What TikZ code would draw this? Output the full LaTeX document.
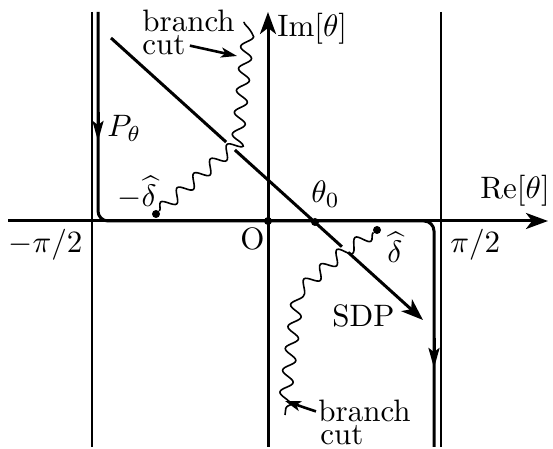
\documentclass[tikz,border=0pt]{standalone}
\usetikzlibrary{arrows.meta,decorations.pathmorphing,calc}
\newcommand{\lbtext}[1]{\scalebox{1.55}{#1}}
\begin{document}
\begin{tikzpicture}[x=0.5pt,y=-0.5pt,
  thickln/.style={line width=1.5pt},
  thinln/.style={line width=1pt},
  wavy/.style={line width=0.8pt, decorate, decoration={snake,segment length=11pt,amplitude=3pt}},
  bigtip/.style={-{Stealth[length=11pt,width=8pt,inset=3pt]}},
  smalltip/.style={-{Stealth[length=10pt,width=5.5pt,inset=2pt]}},
  cuttip/.style={line width=1.3pt,-{Stealth[length=8pt,width=5pt,inset=2pt]}},
  lbl/.style={inner sep=0pt, anchor=base west},
  dot/.style={circle,fill,inner sep=0pt,minimum size=4pt}
]
\useasboundingbox (0,0) rectangle (553,449);

% thin vertical lines at +-pi/2
\coordinate (lt) at (92,12);  \coordinate (lb) at (92,447);
\coordinate (rt) at (441,12); \coordinate (rb) at (441,447);
\draw[thinln] (lt) -- (lb);
\draw[thinln] (rt) -- (rb);

% axes
\coordinate (xa) at (8,221);   \coordinate (xb) at (548,221);
\coordinate (ya) at (268,447); \coordinate (yb) at (268,12);
\draw[thickln,bigtip] (xa) -- (xb);
\draw[thickln,bigtip] (ya) -- (yb);

% contour P_theta
\coordinate (c1) at (98,12);  \coordinate (c2) at (98,221);
\coordinate (c3) at (434,221); \coordinate (c4) at (434,447);
\draw[thickln,rounded corners=5pt] (c1) -- (c2) -- (c3) -- (c4);
\coordinate (pa1) at (98,112); \coordinate (pa2) at (98,141);
\draw[thickln,smalltip] (pa1) -- (pa2);
\coordinate (pb1) at (434,338); \coordinate (pb2) at (434,368);
\draw[thickln,smalltip] (pb1) -- (pb2);

% steepest descent path
\coordinate (s1) at (111,38); \coordinate (s2) at (423,320);
\draw[thickln] (s1) -- ($(s1)!0.369!(s2)$);
\draw[thickln] ($(s1)!0.397!(s2)$) -- ($(s1)!0.740!(s2)$);
\draw[thickln,bigtip] ($(s1)!0.760!(s2)$) -- (s2);

% dots
\node[dot] (o)  at (268,221) {};
\node[dot] (t0) at (315,222) {};
\node[dot] (dl) at (156,214) {};
\node[dot] (dr) at (377,230) {};

% branch cuts
\coordinate (w1) at (232,148); \coordinate (w2) at (244,22);
\draw[wavy] (dl) -- (w1) -- (w2);
\coordinate (v1) at (347,250); \coordinate (v2) at (300,292); \coordinate (v3) at (285,415);
\draw[wavy] (dr) -- (v1) -- (v2) -- (v3);

% labels
\node[lbl] (bA) at (142,32) {\lbtext{branch}};
\node[lbl] (cA) at (142,55) {\lbtext{cut}};
\node[lbl] (bB) at (318,422) {\lbtext{branch}};
\node[lbl] (cB) at (320,445) {\lbtext{cut}};
\coordinate (wa) at (237,56);
\coordinate (wb) at (285,401);
\draw[cuttip] ([xshift=2pt]cA.east) -- (wa);
\draw[cuttip] ([xshift=-1pt]bB.west) -- (wb);

\node[lbl] (im) at (277,37) {\lbtext{$\mathrm{Im}[\theta]$}};
\node[lbl] (re) at (480,199) {\lbtext{$\mathrm{Re}[\theta]$}};
\node[lbl] (th) at (311,203) {\lbtext{$\theta_0$}};
\node[lbl] (pt) at (107,137) {\lbtext{$P_\theta$}};
\node[lbl] (md) at (117,207) {\lbtext{$-\widehat{\delta}$}};
\node[lbl] (pd) at (387,263) {\lbtext{$\widehat{\delta}$}};
\node[lbl] (sdp) at (332,327) {\lbtext{SDP}};
\node[lbl] (mp) at (8,253) {\lbtext{$-\pi/2$}};
\node[lbl] (pp) at (450,253) {\lbtext{$\pi/2$}};
\node[lbl] (oo) at (240,250) {\lbtext{O}};
\end{tikzpicture}
\end{document}
